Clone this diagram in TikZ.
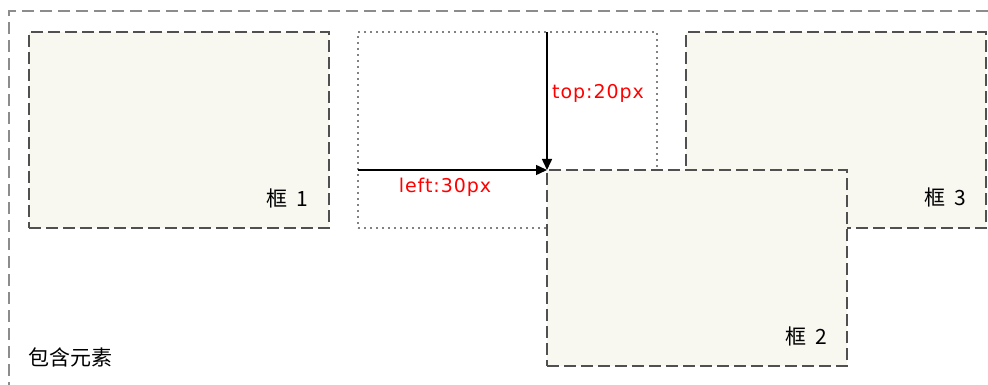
\documentclass[tikz,border=0pt]{standalone}
\usepackage{fontspec}
\setmainfont{DejaVu Sans}
\newfontfamily\cjk{Noto Sans CJK SC}
\newfontfamily\lblfont[LetterSpace=5]{DejaVu Sans}
\usetikzlibrary{arrows.meta}
\definecolor{boxfill}{RGB}{248,248,240}
\definecolor{boxline}{RGB}{80,80,80}
\definecolor{outerline}{RGB}{140,140,140}
\definecolor{dotline}{RGB}{130,130,130}
\begin{document}
\begin{tikzpicture}[x=1pt,y=-1pt,
  pbox/.style={draw=boxline, fill=boxfill, line width=2pt, dash pattern=on 12pt off 5pt,
    minimum width=300pt, minimum height=196pt, inner sep=0pt, outer sep=0pt, anchor=north west},
  ghost/.style={draw=dotline, line width=1.5pt, dash pattern=on 2pt off 4pt,
    minimum width=299pt, minimum height=196pt, inner sep=0pt, outer sep=0pt, anchor=north west},
  outerbox/.style={draw=outerline, line width=1.5pt, dash pattern=on 12pt off 6pt},
  cjklab/.style={font=\cjk\fontsize{21}{21}\selectfont, text=black, inner sep=0pt},
  redlab/.style={font=\lblfont\fontsize{19}{19}\selectfont, text=red, inner sep=0pt},
  move/.style={-{Triangle[length=11pt,width=10pt]}, line width=1.5pt, draw=black}
]
\useasboundingbox (0,0) rectangle (988,385);
% containing element (only top and left edges visible)
\coordinate (otr) at (988,11);
\coordinate (otl) at (9,11);
\coordinate (obl) at (9,385);
\draw[outerbox] (otr) -- (otl) -- (obl);
% boxes
\node[pbox] (b1) at (29,32) {};
\node[ghost] (g) at (358,32) {};
\node[pbox] (b3) at (686,32) {};
\node[pbox] (b2) at (547,170) {};
% offset arrows
\draw[move] (g.west |- b2.north west) -- (b2.north west);
\draw[move] (b2.north west |- g.north) -- (b2.north west);
% labels
\node[redlab, anchor=west] (top) at (552,93) {top:20px};
\node[redlab] (left) at (445,187) {left:30px};
\node[cjklab] (l1) at (287,198) {框\hspace{9pt}1};
\node[cjklab] (l2) at (806,336) {框\hspace{9pt}2};
\node[cjklab] (l3) at (945,197) {框\hspace{9pt}3};
\node[cjklab] (lc) at (70,357) {包含元素};
\end{tikzpicture}
\end{document}
